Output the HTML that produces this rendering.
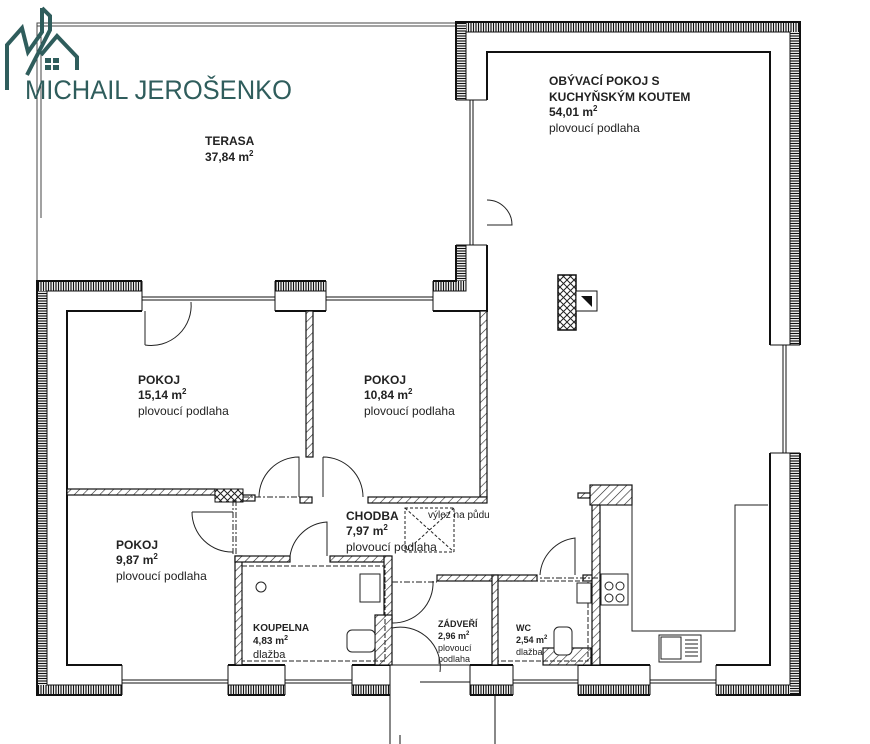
<!DOCTYPE html>
<html><head><meta charset="utf-8"><style>
html,body{margin:0;padding:0;background:#fff;width:870px;height:744px;overflow:hidden}
svg{display:block}
text{font-family:"Liberation Sans",sans-serif;fill:#222}
.b{font-weight:bold}
</style></head><body>
<svg width="870" height="744" viewBox="0 0 870 744" xmlns="http://www.w3.org/2000/svg">
<defs>
<pattern id="vh" width="2.5" height="3" patternUnits="userSpaceOnUse"><rect width="2.5" height="3" fill="#fff"/><line x1="1" y1="0" x2="1" y2="3" stroke="#111" stroke-width="1.2"/></pattern>
<pattern id="hh" width="3" height="2.5" patternUnits="userSpaceOnUse"><rect width="3" height="2.5" fill="#fff"/><line x1="0" y1="1" x2="3" y2="1" stroke="#111" stroke-width="1.2"/></pattern>
<pattern id="dg" width="6" height="6" patternUnits="userSpaceOnUse" patternTransform="rotate(45)"><rect width="6" height="6" fill="#fff"/><line x1="0" y1="0" x2="0" y2="6" stroke="#222" stroke-width="1.2"/></pattern>
<pattern id="xx" width="7" height="7" patternUnits="userSpaceOnUse"><rect width="7" height="7" fill="#fff"/><path d="M0 0L7 7M7 0L0 7" stroke="#222" stroke-width="1"/></pattern>
</defs>

<!-- terrace -->
<rect x="37" y="23" width="419" height="3" fill="none" stroke="#444" stroke-width="1"/>
<line x1="37" y1="26" x2="37" y2="281" stroke="#444"/>
<line x1="41" y1="26" x2="41" y2="218" stroke="#444"/>

<!-- outer walls: hatched strips -->
<rect x="37" y="281" width="10" height="414" fill="url(#hh)"/>
<rect x="37" y="685" width="763" height="10" fill="url(#vh)"/>
<rect x="790" y="22" width="10" height="673" fill="url(#hh)"/>
<rect x="456" y="22" width="344" height="10" fill="url(#vh)"/>
<rect x="456" y="22" width="10" height="269" fill="url(#hh)"/>
<rect x="37" y="281" width="429" height="10" fill="url(#vh)"/>
<!-- outer outline -->
<path d="M37 281H456V22H800V695H37Z" fill="none" stroke="#111" stroke-width="2"/>
<path d="M47 291H466V32H790V685H47Z" fill="none" stroke="#111" stroke-width="1"/>
<path d="M67 311H487V52H770V665H67Z" fill="none" stroke="#111" stroke-width="2"/>

<!-- windows -->
<g fill="#fff" stroke="#111">
<rect x="142" y="280" width="133" height="32" stroke="none"/>
<rect x="326" y="280" width="107" height="32" stroke="none"/>
<rect x="455" y="100" width="33" height="145" stroke="none"/>
<rect x="769" y="345" width="32" height="108" stroke="none"/>
<rect x="122" y="664" width="106" height="32" stroke="none"/>
<rect x="285" y="664" width="67" height="32" stroke="none"/>
<rect x="390" y="664" width="80" height="32" stroke="none"/>
<rect x="513" y="664" width="65" height="32" stroke="none"/>
<rect x="650" y="664" width="66" height="32" stroke="none"/>
</g>
<g stroke="#111" stroke-width="1" fill="none">
<path d="M142 281V311M275 281V311M326 281V311M433 281V311M142 297H275M142 300H275M326 297H433M326 300H433"/>
<path d="M456 100H487M456 245H487M470 100V245M473 100V245"/>
<path d="M770 345H800M770 453H800M783 345V453M786 345V453"/>
<path d="M122 665V695M228 665V695M122 680H228M122 683H228"/>
<path d="M285 665V695M352 665V695M285 680H352M285 683H352"/>
<path d="M513 665V695M578 665V695M513 680H578M513 683H578"/>
<path d="M650 665V695M716 665V695M650 680H716M650 683H716"/>
<path d="M390 665V744M470 665V695M495 695V744M390 665H470M420 682H470"/>
<path d="M400 744V735"/>
</g>

<!-- interior walls -->
<g fill="url(#dg)" stroke="#111" stroke-width="1.2">
<rect x="306" y="311" width="7" height="146"/>
<rect x="480" y="311" width="7" height="186"/>
<rect x="368" y="497" width="119" height="6"/>
<rect x="67" y="489" width="148" height="6"/>
<rect x="243" y="495" width="12" height="6"/>
<rect x="300" y="497" width="12" height="6"/>
<rect x="235" y="556" width="7" height="109"/>
<rect x="235" y="556" width="55" height="6"/>
<rect x="330" y="556" width="60" height="6"/>
<rect x="384" y="556" width="8" height="66"/>
<rect x="375" y="615" width="17" height="50"/>
<rect x="437" y="575" width="100" height="6"/>
<rect x="492" y="575" width="6" height="90"/>
<rect x="583" y="575" width="12" height="6"/>
<rect x="592" y="488" width="8" height="177"/>
<rect x="590" y="485" width="42" height="20"/>
<rect x="578" y="493" width="12" height="5"/>
<rect x="543" y="648" width="48" height="17"/>
</g>
<rect x="215" y="489" width="28" height="13" fill="url(#xx)" stroke="#111"/>
<rect x="558" y="275" width="18" height="55" fill="url(#xx)" stroke="#111" stroke-width="1.5"/>
<rect x="576" y="291" width="21" height="20" fill="#fff" stroke="#111"/>
<path d="M581 296H592V307Z" fill="#111"/>

<!-- doors -->
<g fill="none" stroke="#222" stroke-width="1">
<path d="M145 311V345M145 345A40 40 0 0 0 191 302"/>
<path d="M259 497A40 40 0 0 1 299 457V497"/>
<path d="M323 457V497M323 457A40 40 0 0 1 363 497"/>
<path d="M192 512H233M192 512A40 40 0 0 0 233 552"/>
<path d="M290 556A40 40 0 0 1 327 522V556"/>
<path d="M392 623A40 40 0 0 0 433 581"/>
<path d="M392 628A40 40 0 0 1 440 672"/>
<path d="M540 575A40 40 0 0 1 575 538V575"/>
<path d="M487 200A25 25 0 0 1 512 225H487"/>
<path d="M236 500V555M233 500V555" stroke-dasharray="6 2 2 2"/>
<path d="M242 566H385V661H242Z" stroke-dasharray="5 2"/>
<path d="M498 581H588V661H498Z" stroke-dasharray="5 2"/>
<path d="M405 508H454V552H405ZM405 508L454 552M454 508L405 552" stroke-dasharray="3 2"/>
<path d="M392 582H437M598 578H540" stroke-dasharray="6 2 2 2"/>
<path d="M600 505H632V631H735V505H768"/>
<path d="M243 497H306" stroke-dasharray="6 2 2 2"/>
</g>
<!-- fixtures -->
<g fill="#fff" stroke="#222" stroke-width="1">
<rect x="360" y="574" width="20" height="28"/>
<rect x="347" y="630" width="28" height="22" rx="5"/>
<circle cx="261" cy="587" r="5"/>
<rect x="554" y="627" width="18" height="28" rx="5"/>
<rect x="577" y="583" width="14" height="20"/>
<rect x="601" y="574" width="27" height="31"/>
<circle cx="609" cy="586" r="4"/><circle cx="620" cy="586" r="4"/><circle cx="609" cy="598" r="4"/><circle cx="620" cy="598" r="4"/>
<rect x="659" y="635" width="42" height="27"/>
<rect x="661" y="637" width="20" height="22"/>
</g>
<path d="M685 640H698M685 644H698M685 648H698M685 652H698M685 656H698" stroke="#222"/>

<!-- labels -->
<text x="205" y="145" font-size="12" class="b">TERASA</text>
<text x="205" y="161" font-size="12" class="b">37,84 m<tspan font-size="8" dy="-5">2</tspan></text>
<text x="549" y="85" font-size="12" class="b">OBÝVACÍ POKOJ S</text>
<text x="549" y="101" font-size="12" class="b">KUCHYŇSKÝM KOUTEM</text>
<text x="549" y="116" font-size="12" class="b">54,01 m<tspan font-size="8" dy="-5">2</tspan></text>
<text x="549" y="132" font-size="12">plovoucí podlaha</text>
<text x="138" y="384" font-size="12" class="b">POKOJ</text>
<text x="138" y="399" font-size="12" class="b">15,14 m<tspan font-size="8" dy="-5">2</tspan></text>
<text x="138" y="415" font-size="12">plovoucí podlaha</text>
<text x="364" y="384" font-size="12" class="b">POKOJ</text>
<text x="364" y="399" font-size="12" class="b">10,84 m<tspan font-size="8" dy="-5">2</tspan></text>
<text x="364" y="415" font-size="12">plovoucí podlaha</text>
<text x="116" y="549" font-size="12" class="b">POKOJ</text>
<text x="116" y="564" font-size="12" class="b">9,87 m<tspan font-size="8" dy="-5">2</tspan></text>
<text x="116" y="580" font-size="12">plovoucí podlaha</text>
<text x="346" y="520" font-size="12" class="b">CHODBA</text>
<text x="346" y="535" font-size="12" class="b">7,97 m<tspan font-size="8" dy="-5">2</tspan></text>
<text x="346" y="551" font-size="12">plovoucí podlaha</text>
<text x="428" y="518" font-size="10">výlez na půdu</text>
<text x="253" y="631" font-size="10" class="b">KOUPELNA</text>
<text x="253" y="644" font-size="10" class="b">4,83 m<tspan font-size="7" dy="-4">2</tspan></text>
<text x="253" y="658" font-size="11">dlažba</text>
<text x="438" y="627" font-size="9" class="b">ZÁDVEŘÍ</text>
<text x="438" y="639" font-size="9" class="b">2,96 m<tspan font-size="6" dy="-4">2</tspan></text>
<text x="438" y="651" font-size="9">plovoucí</text>
<text x="438" y="662" font-size="9">podlaha</text>
<text x="516" y="631" font-size="9" class="b">WC</text>
<text x="516" y="643" font-size="9" class="b">2,54 m<tspan font-size="6" dy="-4">2</tspan></text>
<text x="516" y="655" font-size="9">dlažba</text>

<!-- logo -->
<g fill="none" stroke="#2f5d5c" stroke-width="4">
<path d="M7 90V45L22 28 28 52 42 32V8"/>
<path d="M42 8L50 16V30L27 75"/>
<path d="M41 55L57 36 77 57V70"/>
</g>
<g fill="#2f5d5c"><rect x="45" y="58" width="6" height="5"/><rect x="53" y="58" width="6" height="5"/><rect x="45" y="65" width="6" height="5"/><rect x="53" y="65" width="6" height="5"/></g>
<text x="25" y="99" font-size="27" textLength="267" lengthAdjust="spacingAndGlyphs" style="fill:#2f5d5c">MICHAIL JEROŠENKO</text>
</svg>
</body></html>
